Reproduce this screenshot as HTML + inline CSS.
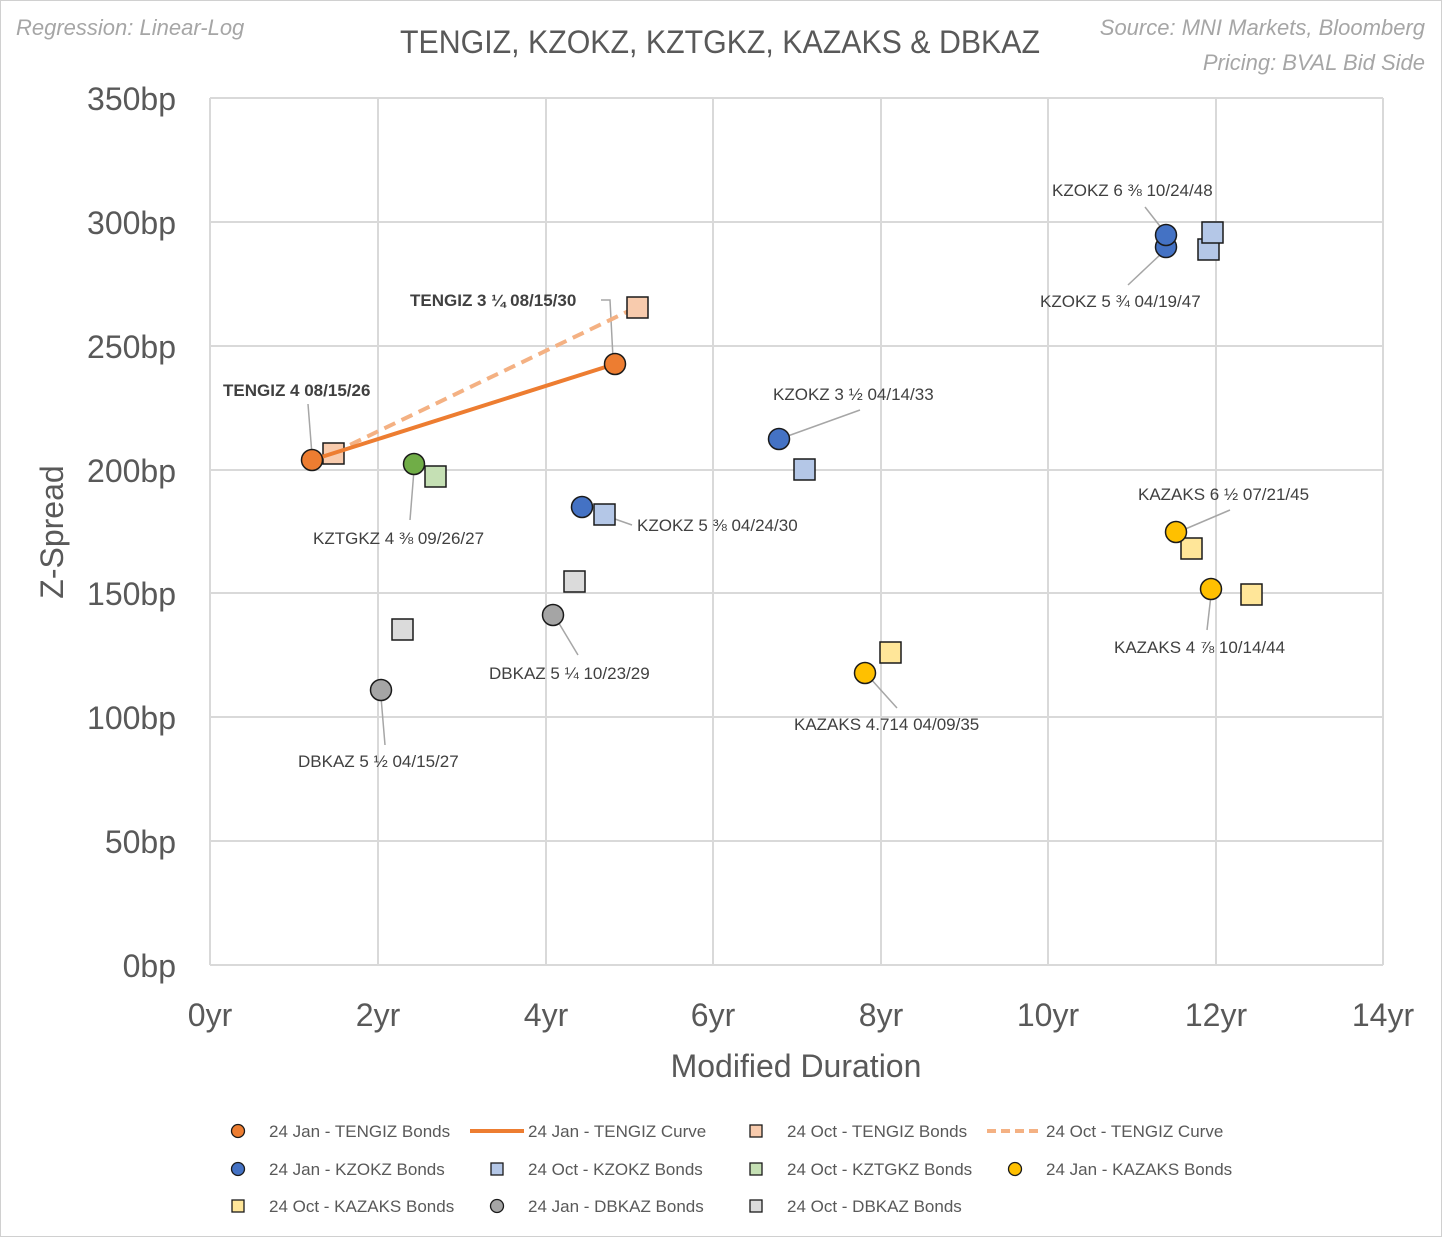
<!DOCTYPE html><html><head><meta charset="utf-8"><style>body{margin:0;background:#fff}svg{display:block}text{font-family:"Liberation Sans","DejaVu Sans",sans-serif}</style></head><body>
<svg width="1442" height="1237" viewBox="0 0 1442 1237">
<rect x="0.5" y="0.5" width="1441" height="1236" fill="#fff" stroke="#d0d0d0"/>
<g stroke="#d9d9d9" stroke-width="2">
<line x1="210" y1="98" x2="1383" y2="98"/><line x1="210" y1="222" x2="1383" y2="222"/><line x1="210" y1="346" x2="1383" y2="346"/><line x1="210" y1="470" x2="1383" y2="470"/><line x1="210" y1="593" x2="1383" y2="593"/><line x1="210" y1="717" x2="1383" y2="717"/><line x1="210" y1="841" x2="1383" y2="841"/><line x1="210" y1="965" x2="1383" y2="965"/>
<line x1="210" y1="98" x2="210" y2="965"/><line x1="378" y1="98" x2="378" y2="965"/><line x1="546" y1="98" x2="546" y2="965"/><line x1="713" y1="98" x2="713" y2="965"/><line x1="881" y1="98" x2="881" y2="965"/><line x1="1048" y1="98" x2="1048" y2="965"/><line x1="1216" y1="98" x2="1216" y2="965"/><line x1="1383" y1="98" x2="1383" y2="965"/>
</g>
<g fill="#595959" font-size="32" text-anchor="end">
<text x="176" y="110">350bp</text><text x="176" y="234">300bp</text><text x="176" y="358">250bp</text><text x="176" y="482">200bp</text><text x="176" y="605">150bp</text><text x="176" y="729">100bp</text><text x="176" y="853">50bp</text><text x="176" y="977">0bp</text></g>
<g fill="#595959" font-size="32" text-anchor="middle">
<text x="210" y="1026">0yr</text><text x="378" y="1026">2yr</text><text x="546" y="1026">4yr</text><text x="713" y="1026">6yr</text><text x="881" y="1026">8yr</text><text x="1048" y="1026">10yr</text><text x="1216" y="1026">12yr</text><text x="1383" y="1026">14yr</text>
<text x="796" y="1077">Modified Duration</text>
<text transform="translate(63,532) rotate(-90)">Z-Spread</text>
</g>
<text x="400" y="53" font-size="32" fill="#595959" textLength="640" lengthAdjust="spacingAndGlyphs">TENGIZ, KZOKZ, KZTGKZ, KAZAKS &amp; DBKAZ</text>
<text x="16" y="35" font-size="22" font-style="italic" fill="#a6a6a6">Regression: Linear-Log</text>
<text x="1425" y="35" font-size="22" font-style="italic" fill="#a6a6a6" text-anchor="end">Source: MNI Markets, Bloomberg</text>
<text x="1425" y="70" font-size="22" font-style="italic" fill="#a6a6a6" text-anchor="end">Pricing: BVAL Bid Side</text>
<g stroke="#a6a6a6" stroke-width="1.5" fill="none">
<polyline points="308,404 312,455"/><polyline points="601,300 610,300 613,358"/>
<polyline points="410,520 414,470"/><polyline points="632,525 612,518"/>
<polyline points="860,410 785,437"/><polyline points="1145,207 1163,230"/>
<polyline points="1128,285 1162,253"/><polyline points="1230,510 1183,530"/>
<polyline points="1207,630 1211,595"/><polyline points="897,708 870,678"/>
<polyline points="578,655 557,620"/><polyline points="385,745 381,697"/>
</g>
<line x1="333" y1="453" x2="637" y2="307" stroke="#F4B183" stroke-width="4" stroke-dasharray="12,7"/>
<g stroke="#1a1a1a" stroke-width="1.5">
<rect x="323" y="443" width="21" height="21" fill="#F8CBAD"/><rect x="627" y="297" width="21" height="21" fill="#F8CBAD"/>
<rect x="425" y="466" width="21" height="21" fill="#C5E0B4"/>
<rect x="594" y="504" width="21" height="21" fill="#B4C7E7"/><rect x="794" y="459" width="21" height="21" fill="#B4C7E7"/><rect x="1198" y="239" width="21" height="21" fill="#B4C7E7"/><rect x="1202" y="222" width="21" height="21" fill="#B4C7E7"/>
<rect x="880" y="642" width="21" height="21" fill="#FFE699"/><rect x="1181" y="538" width="21" height="21" fill="#FFE699"/><rect x="1241" y="584" width="21" height="21" fill="#FFE699"/>
<rect x="392" y="619" width="21" height="21" fill="#DBDBDB"/><rect x="564" y="571" width="21" height="21" fill="#DBDBDB"/>
</g>
<line x1="312" y1="460" x2="615" y2="364" stroke="#ED7D31" stroke-width="4"/>
<g stroke="#1a1a1a" stroke-width="1.5">
<circle cx="312" cy="460" r="10.5" fill="#ED7D31"/><circle cx="615" cy="364" r="10.5" fill="#ED7D31"/>
<circle cx="414" cy="464" r="10.5" fill="#70AD47"/>
<circle cx="582" cy="507" r="10.5" fill="#4472C4"/><circle cx="779" cy="439" r="10.5" fill="#4472C4"/><circle cx="1166" cy="247" r="10.5" fill="#4472C4"/><circle cx="1166" cy="235" r="10.5" fill="#4472C4"/>
<circle cx="865" cy="673" r="10.5" fill="#FFC000"/><circle cx="1176" cy="532" r="10.5" fill="#FFC000"/><circle cx="1211" cy="589" r="10.5" fill="#FFC000"/>
<circle cx="381" cy="690" r="10.5" fill="#A5A5A5"/><circle cx="553" cy="615" r="10.5" fill="#A5A5A5"/>
</g>
<g font-size="17" fill="#404040">
<text x="223" y="396" font-weight="bold">TENGIZ 4 08/15/26</text>
<text x="410" y="306" font-weight="bold">TENGIZ 3 ¼ 08/15/30</text>
<text x="313" y="544">KZTGKZ 4 ⅜ 09/26/27</text>
<text x="637" y="531">KZOKZ 5 ⅜ 04/24/30</text>
<text x="773" y="400">KZOKZ 3 ½ 04/14/33</text>
<text x="1052" y="196">KZOKZ 6 ⅜ 10/24/48</text>
<text x="1040" y="307">KZOKZ 5 ¾ 04/19/47</text>
<text x="1138" y="500">KAZAKS 6 ½ 07/21/45</text>
<text x="1114" y="653">KAZAKS 4 ⅞ 10/14/44</text>
<text x="794" y="730">KAZAKS 4.714 04/09/35</text>
<text x="489" y="679">DBKAZ 5 ¼ 10/23/29</text>
<text x="298" y="767">DBKAZ 5 ½ 04/15/27</text>
</g>
<g font-size="17" fill="#595959">
<text x="269" y="1137">24 Jan - TENGIZ Bonds</text><text x="528" y="1137">24 Jan - TENGIZ Curve</text><text x="787" y="1137">24 Oct - TENGIZ Bonds</text><text x="1046" y="1137">24 Oct - TENGIZ Curve</text>
<text x="269" y="1175">24 Jan - KZOKZ Bonds</text><text x="528" y="1175">24 Oct - KZOKZ Bonds</text><text x="787" y="1175">24 Oct - KZTGKZ Bonds</text><text x="1046" y="1175">24 Jan - KAZAKS Bonds</text>
<text x="269" y="1212">24 Oct - KAZAKS Bonds</text><text x="528" y="1212">24 Jan - DBKAZ Bonds</text><text x="787" y="1212">24 Oct - DBKAZ Bonds</text>
</g>
<line x1="470" y1="1131" x2="524" y2="1131" stroke="#ED7D31" stroke-width="4"/>
<line x1="987" y1="1131" x2="1043" y2="1131" stroke="#F4B183" stroke-width="4" stroke-dasharray="9,5"/>
<g stroke="#1a1a1a" stroke-width="1.3">
<circle cx="238" cy="1131" r="6.5" fill="#ED7D31"/><rect x="750" y="1125" width="12" height="12" fill="#F8CBAD"/>
<circle cx="238" cy="1169" r="6.5" fill="#4472C4"/><rect x="491" y="1163" width="12" height="12" fill="#B4C7E7"/><rect x="750" y="1163" width="12" height="12" fill="#C5E0B4"/><circle cx="1015" cy="1169" r="6.5" fill="#FFC000"/>
<rect x="232" y="1200" width="12" height="12" fill="#FFE699"/><circle cx="497" cy="1206" r="6.5" fill="#A5A5A5"/><rect x="750" y="1200" width="12" height="12" fill="#DBDBDB"/>
</g>
</svg></body></html>
